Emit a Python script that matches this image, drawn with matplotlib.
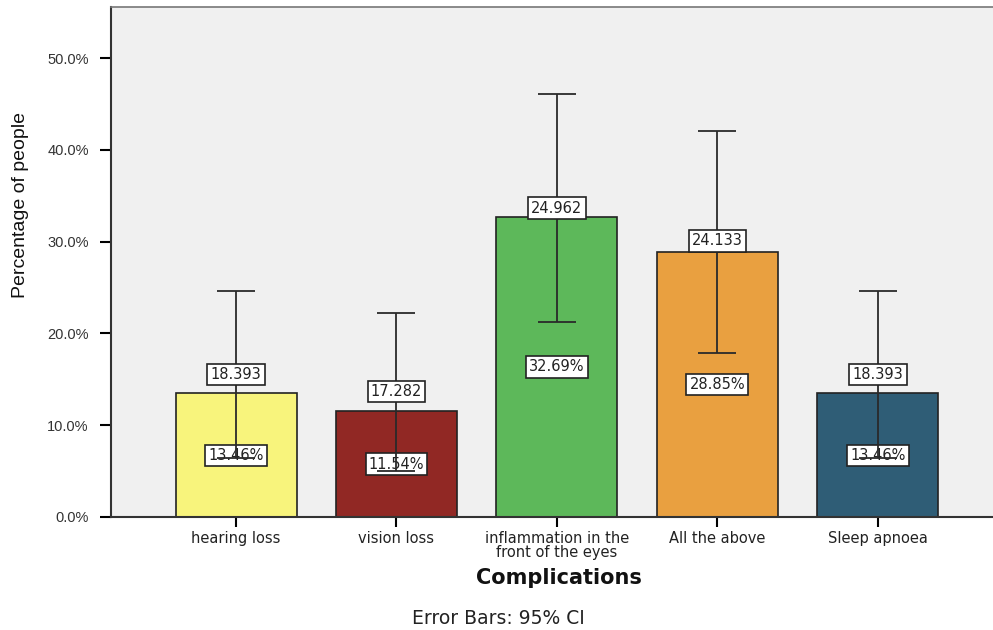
import matplotlib
matplotlib.use("Agg")
import matplotlib.pyplot as plt
from matplotlib.ticker import FuncFormatter

categories = ["hearing loss", "vision loss", "inflammation in the\nfront of the eyes",
              "All the above", "Sleep apnoea"]
percent = [13.46, 11.54, 32.69, 28.85, 13.46]
ci_low = [6.4, 5.0, 21.2, 17.9, 6.4]
ci_high = [24.65, 22.25, 46.1, 42.0, 24.65]
top_labels = ["18.393", "17.282", "24.962", "24.133", "18.393"]
top_label_y = [15.5, 13.7, 33.65, 30.07, 15.5]
colors = ["#F8F47C", "#912824", "#5DB85A", "#E9A040", "#2F5D76"]

plt.rcParams['font.family'] = ['Liberation Sans', 'DejaVu Sans']

fig = plt.figure(figsize=(9.93, 6.3), dpi=100)
ax = fig.add_axes([111/993, 1 - 517/630, 1 - 111/993, (517 - 7)/630])
ax.set_facecolor("#F0F0F0")

x = list(range(len(categories)))
ax.bar(x, percent, width=0.754, color=colors, edgecolor="#222222", linewidth=1.2, zorder=2)

box = dict(boxstyle="square,pad=0.22", facecolor="white", edgecolor="#222222", linewidth=1.2)
lblfont = dict(family=["DejaVu Sans"], fontsize=10.5, color="#222222")
for xi, v in zip(x, percent):
    ax.text(xi, v / 2, f"{v:.2f}%", ha="center", va="center", bbox=box, zorder=3, **lblfont)

yerr = [[p - l for p, l in zip(percent, ci_low)], [h - p for p, h in zip(percent, ci_high)]]
ax.errorbar(x, percent, yerr=yerr, fmt="none", ecolor="#2a2a2a", elinewidth=1.3,
            capsize=14, capthick=1.3, zorder=4)

for xi, t, ty in zip(x, top_labels, top_label_y):
    ax.text(xi, ty, t, ha="center", va="center", bbox=box, zorder=5, **lblfont)

ax.set_xlim(-0.779, 4.717)
ax.set_ylim(0, 55.56)
ax.set_yticks([0, 10, 20, 30, 40, 50])
ax.yaxis.set_major_formatter(FuncFormatter(lambda v, p: f"{v:.1f}%"))
ax.set_xticks(x)
ax.set_xticklabels(categories, color="#222222", linespacing=0.95,
                   family=["DejaVu Sans"], fontsize=10.5)
ax.tick_params(axis="y", labelsize=10.5, labelcolor="#333333", length=8, width=1.5,
               direction="out", pad=8)
ax.tick_params(axis="x", length=7, width=1.5, direction="out", pad=3)

for s in ["left", "bottom"]:
    ax.spines[s].set_color("#333333")
    ax.spines[s].set_linewidth(1.5)
ax.spines["top"].set_color("#777777")
ax.spines["top"].set_linewidth(1.2)
ax.spines["right"].set_visible(False)

fig.text(21/993, 1 - 205/630, "Percentage of people", rotation=90, ha="center", va="center",
         fontsize=14, color="#111111", family=["Liberation Sans", "DejaVu Sans"])
fig.text(559/993, 1 - 578/630, "Complications", ha="center", va="center",
         fontsize=15, fontweight="bold", color="#111111", family=["DejaVu Sans"])
fig.text(498/993, 1 - 618/630, "Error Bars: 95% CI", ha="center", va="center",
         fontsize=13.5, color="#222222", family=["DejaVu Sans"])

fig.savefig("out.png", dpi=100)
